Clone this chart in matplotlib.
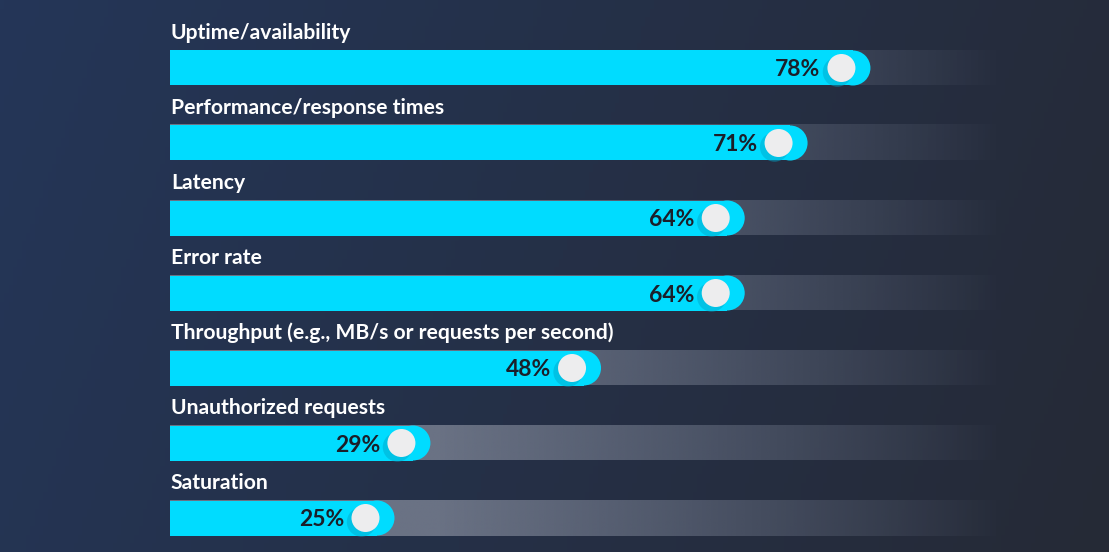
import numpy as np
import matplotlib
matplotlib.use("Agg")
import matplotlib.pyplot as plt
from matplotlib.patches import Rectangle, Ellipse
from matplotlib.colors import to_rgb

categories = [
    "Uptime/availability",
    "Performance/response times",
    "Latency",
    "Error rate",
    "Throughput (e.g., MB/s or requests per second)",
    "Unauthorized requests",
    "Saturation",
]
values = [78, 71, 64, 64, 48, 29, 25]
value_labels = ["78%", "71%", "64%", "64%", "48%", "29%", "25%"]

W, H, DPI = 1109, 552, 100
fig = plt.figure(figsize=(W / DPI, H / DPI), dpi=DPI)

# background gradient
bg = fig.add_axes([0, 0, 1, 1], zorder=0)
bg.set_axis_off()
nx, ny = 256, 64
xx, yy = np.meshgrid(np.linspace(0, 1, nx), np.linspace(0, 1, ny))
t = np.clip(0.85 * xx + 0.15 * yy, 0, 1)
c0 = np.array(to_rgb("#243658"))
c1 = np.array(to_rgb("#262a36"))
img = c0[None, None, :] * (1 - t[..., None]) + c1[None, None, :] * t[..., None]
bg.imshow(img, extent=[0, 1, 0, 1], aspect="auto", origin="upper")
bg.set_xlim(0, 1)
bg.set_ylim(0, 1)

ax = fig.add_axes([0, 0, 1, 1], zorder=1)
ax.patch.set_alpha(0)
ax.set_axis_off()
px_per_pct = 8.98
x0_px = 170
ax.set_xlim(-x0_px / px_per_pct, (W - x0_px) / px_per_pct)
y_first, y_step = 68, 75
ax.set_ylim((H - y_first) / y_step, -y_first / y_step)

bar_h_px = 35
bar_h = bar_h_px / y_step
rx = (bar_h_px / 2) / px_per_pct
track_end = (1003 - x0_px) / px_per_pct

gray = np.array(to_rgb("#6a7284"))
n = 400
xs = np.linspace(0, track_end, n)
alpha = np.clip((track_end - xs) / (track_end - 30), 0, 1) ** 0.9
track_img = np.zeros((1, n, 4))
track_img[0, :, :3] = gray
track_img[0, :, 3] = alpha

cyan = "#00dcff"
knob_r_px = 14
knob_off = 29 / px_per_pct
s_knob = (2 * knob_r_px * 72 / DPI) ** 2

for i, (cat, v, lab) in enumerate(zip(categories, values, value_labels)):
    top, bot = i - bar_h / 2, i + bar_h / 2
    ax.imshow(track_img, extent=[0, track_end, bot, top], aspect="auto",
              zorder=2, interpolation="bilinear")
    ax.add_patch(Rectangle((0, top), v - rx, bar_h, facecolor=cyan,
                           edgecolor="none", zorder=3))
    ax.add_patch(Ellipse((v - rx, i), 2 * rx, bar_h, facecolor=cyan,
                         edgecolor="none", zorder=3))
    kx = v - knob_off
    # knob shadow
    ax.scatter([kx - 4 / px_per_pct], [i + 4 / y_step], s=s_knob * 1.1,
               color="#00a9cc", alpha=0.5, edgecolors="none", zorder=4)
    ax.scatter([kx], [i], s=s_knob, color="#ededee", edgecolors="none", zorder=5)
    ax.annotate(lab, (kx, i), xytext=(-(knob_r_px + 7) * 72 / DPI, 0),
                textcoords="offset points", ha="right", va="center_baseline",
                fontsize=16.5, fontweight="bold", color="#1b1f2a",
                family=["Lato", "DejaVu Sans"], zorder=6)
    ax.annotate(cat, (0, i), xytext=(1 * 72 / DPI, 37 * 72 / DPI),
                textcoords="offset points", ha="left", va="center_baseline",
                fontsize=15.2, fontweight="bold", color="#ffffff",
                family=["Lato", "DejaVu Sans"], zorder=6)

fig.savefig("out.png", dpi=DPI)
